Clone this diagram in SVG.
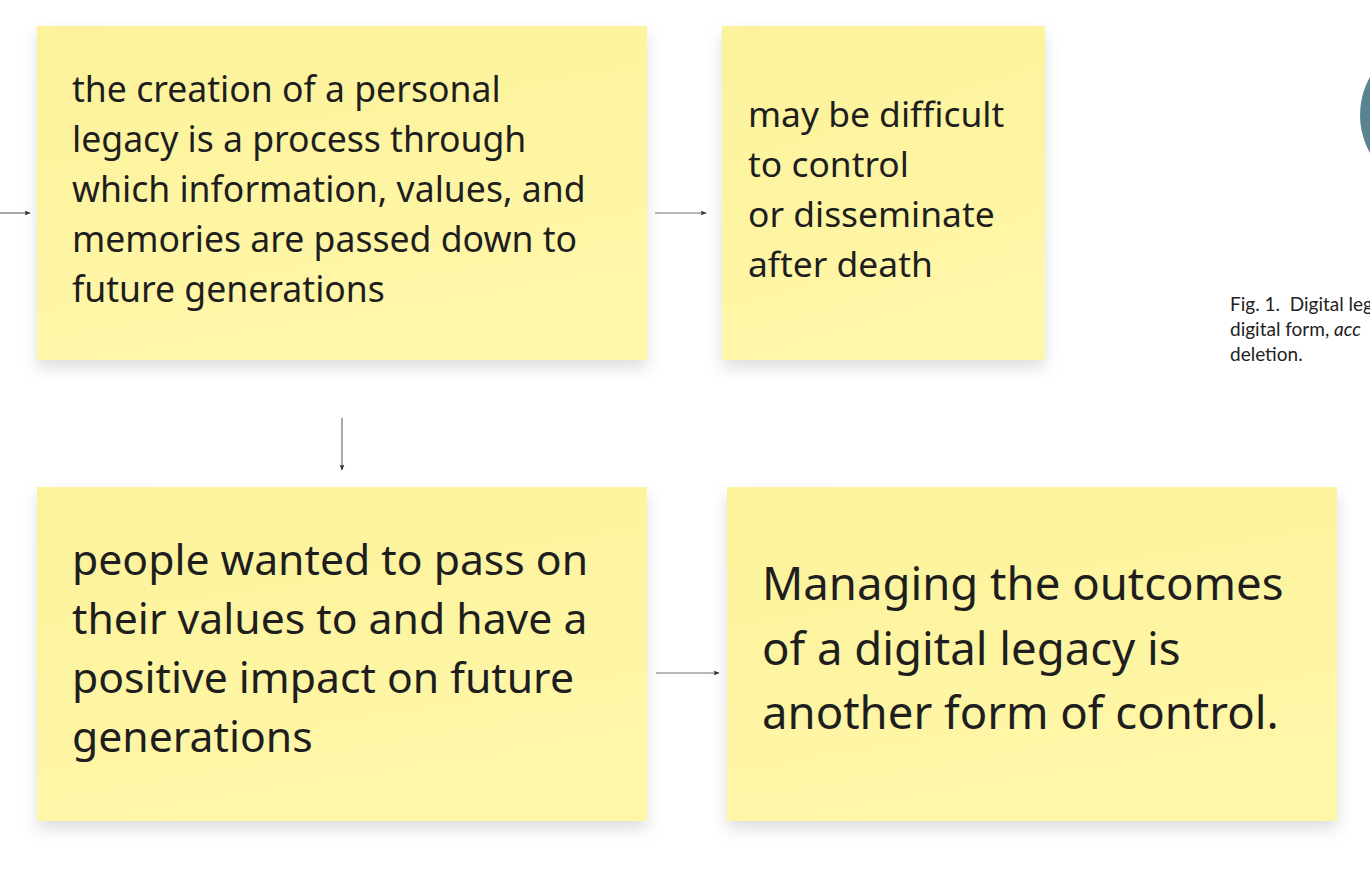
<svg xmlns="http://www.w3.org/2000/svg" width="1370" height="874" viewBox="0 0 1370 874">
  <defs>
    <linearGradient id="sticky" x1="0" y1="0" x2="0.3" y2="1">
      <stop offset="0" stop-color="#fcf29b"/>
      <stop offset="1" stop-color="#fff7a8"/>
    </linearGradient>
    <filter id="shadow" x="-10%" y="-10%" width="120%" height="130%">
      <feDropShadow dx="0" dy="8" stdDeviation="8" flood-color="#000" flood-opacity="0.13"/>
    </filter>
    <marker id="arrow" viewBox="0 0 10 10" refX="9" refY="5" markerWidth="6" markerHeight="6" orient="auto" markerUnits="userSpaceOnUse">
      <path d="M0,1 L10,5 L0,9 L2,5 Z" fill="#333"/>
    </marker>
    <clipPath id="page"><rect x="0" y="0" width="1370" height="874"/></clipPath>
  </defs>
  <style>
    .note { fill: url(#sticky); filter: url(#shadow); }
    .txt { font-family: "Noto Sans", "Open Sans", sans-serif; fill: #1e1e1e; }
    .conn { stroke: #707070; stroke-width: 1.2; fill: none; marker-end: url(#arrow); }
    .cap { font-family: "Lato", "Noto Sans", sans-serif; font-size: 19px; fill: #222; white-space: pre; }
  </style>
  <rect width="1370" height="874" fill="#ffffff"/>

  <g id="figure" clip-path="url(#page)">
    <circle cx="1437" cy="115" r="77" fill="#5a8391"/>
    <text class="cap" x="1230" y="311" xml:space="preserve">Fig. 1.  Digital leg</text>
    <text class="cap" x="1230" y="336">digital form, <tspan font-style="italic">acc</tspan></text>
    <text class="cap" x="1230" y="361">deletion.</text>
  </g>

  <g id="connectors">
    <line class="conn" x1="0" y1="213" x2="30" y2="213"/>
    <line class="conn" x1="655" y1="213" x2="706" y2="213"/>
    <line class="conn" x1="342" y1="418" x2="342" y2="470"/>
    <line class="conn" x1="656" y1="673" x2="719" y2="673"/>
  </g>

  <g id="node1">
    <rect class="note" x="37" y="26" width="610" height="334"/>
    <text class="txt" font-size="35.6">
      <tspan x="72" y="102">the creation of a personal</tspan>
      <tspan x="72" y="152">legacy is a process through</tspan>
      <tspan x="72" y="202">which information, values, and</tspan>
      <tspan x="72" y="252">memories are passed down to</tspan>
      <tspan x="72" y="302">future generations</tspan>
    </text>
  </g>

  <g id="node2">
    <rect class="note" x="722" y="26" width="323" height="334"/>
    <text class="txt" font-size="35.4">
      <tspan x="748" y="127">may be difficult</tspan>
      <tspan x="748" y="177">to control</tspan>
      <tspan x="748" y="227">or disseminate</tspan>
      <tspan x="748" y="277">after death</tspan>
    </text>
  </g>

  <g id="node3">
    <rect class="note" x="37" y="487" width="610" height="334"/>
    <text class="txt" font-size="42.7">
      <tspan x="72" y="575">people wanted to pass on</tspan>
      <tspan x="72" y="634">their values to and have a</tspan>
      <tspan x="72" y="693">positive impact on future</tspan>
      <tspan x="72" y="752">generations</tspan>
    </text>
  </g>

  <g id="node4">
    <rect class="note" x="727" y="487" width="610" height="334"/>
    <text class="txt" font-size="45.5">
      <tspan x="762" y="600">Managing the outcomes</tspan>
      <tspan x="762" y="665">of a digital legacy is</tspan>
      <tspan x="762" y="729">another form of control.</tspan>
    </text>
  </g>
</svg>
